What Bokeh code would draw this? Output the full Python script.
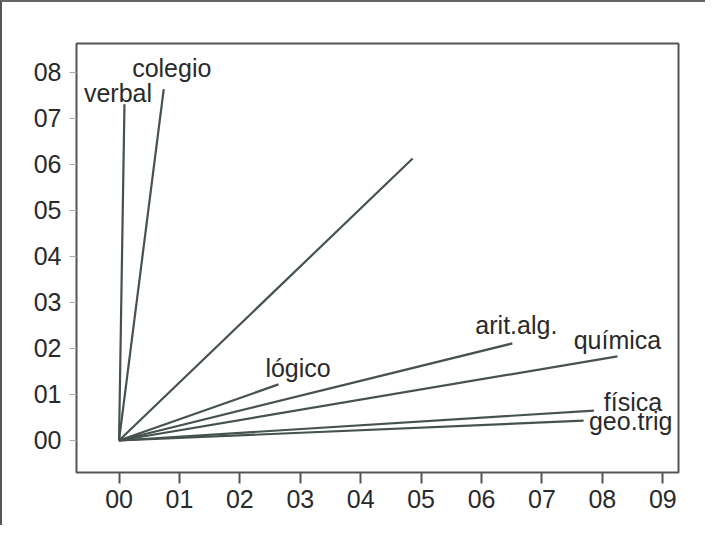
from bokeh.plotting import figure
from bokeh.models import ColumnDataSource, FixedTicker, Range1d
from bokeh.core.properties import value
from bokeh.embed import file_html
from bokeh.resources import INLINE

# Data (loadings)
variables = ["verbal", "colegio", "", "lógico", "arit.alg.", "química", "física", "geo.trig"]
load_x = [0.009, 0.074, 0.486, 0.264, 0.651, 0.825, 0.786, 0.769]
load_y = [0.731, 0.764, 0.613, 0.122, 0.211, 0.183, 0.065, 0.043]
x_ticks = [0.0, 0.1, 0.2, 0.3, 0.4, 0.5, 0.6, 0.7, 0.8, 0.9]
x_tick_labels = ["00", "01", "02", "03", "04", "05", "06", "07", "08", "09"]
y_ticks = [0.0, 0.1, 0.2, 0.3, 0.4, 0.5, 0.6, 0.7, 0.8]
y_tick_labels = ["00", "01", "02", "03", "04", "05", "06", "07", "08"]

# label placement offsets in screen pixels (style only)
label_dx = [-6.5, 8, 0, 19.5, 4, 0, 39, 47]
label_dy = [-11.5, -21, -9, -16, -18, -16, -9, 0]

FONT = "Liberation Sans"
INK = "#2a2a2a"
LINE = "#46524f"

p = figure(width=705, height=525, output_backend="svg", toolbar_location=None,
           x_range=Range1d(-0.0704, 0.926), y_range=Range1d(-0.0696, 0.863),
           min_border_left=74, min_border_right=29, min_border_top=41, min_border_bottom=55,
           styles={"border-left": "2px solid #555", "border-top": "2px solid #666"})
p.background_fill_color = "white"
p.border_fill_color = "white"
p.outline_line_color = "#555555"
p.outline_line_width = 2
p.xgrid.visible = False
p.ygrid.visible = False

for ax in (p.xaxis[0], p.yaxis[0]):
    ax.axis_line_color = None
    ax.major_tick_in = 0
    ax.minor_tick_line_color = None
    ax.major_label_text_font = FONT
    ax.major_label_text_font_size = "25px"
    ax.major_label_text_color = INK

p.xaxis.ticker = FixedTicker(ticks=x_ticks)
p.xaxis.major_label_overrides = {t: l for t, l in zip(x_ticks, x_tick_labels)}
p.xaxis.major_tick_out = 11
p.xaxis.major_tick_line_color = "#555555"
p.xaxis.major_tick_line_width = 2
p.xaxis.major_label_standoff = 6

p.yaxis.ticker = FixedTicker(ticks=y_ticks)
p.yaxis.major_label_overrides = {t: l for t, l in zip(y_ticks, y_tick_labels)}
p.yaxis.major_tick_out = 7
p.yaxis.major_tick_line_color = "#aaaaaa"
p.yaxis.major_tick_line_width = 1
p.yaxis.major_label_standoff = 8

src = ColumnDataSource(dict(x0=[0.0] * len(load_x), y0=[0.0] * len(load_y),
                            x1=load_x, y1=load_y, label=variables,
                            dx=label_dx, dy=label_dy))
p.segment(x0="x0", y0="y0", x1="x1", y1="y1", source=src,
          line_color=LINE, line_width=2.2)
p.text(x="x1", y="y1", text="label", x_offset="dx", y_offset="dy", source=src,
       text_font=value(FONT), text_font_size="25px", text_color=INK,
       text_align="center", text_baseline="alphabetic")

open("out.html", "w").write(file_html(p, INLINE))
